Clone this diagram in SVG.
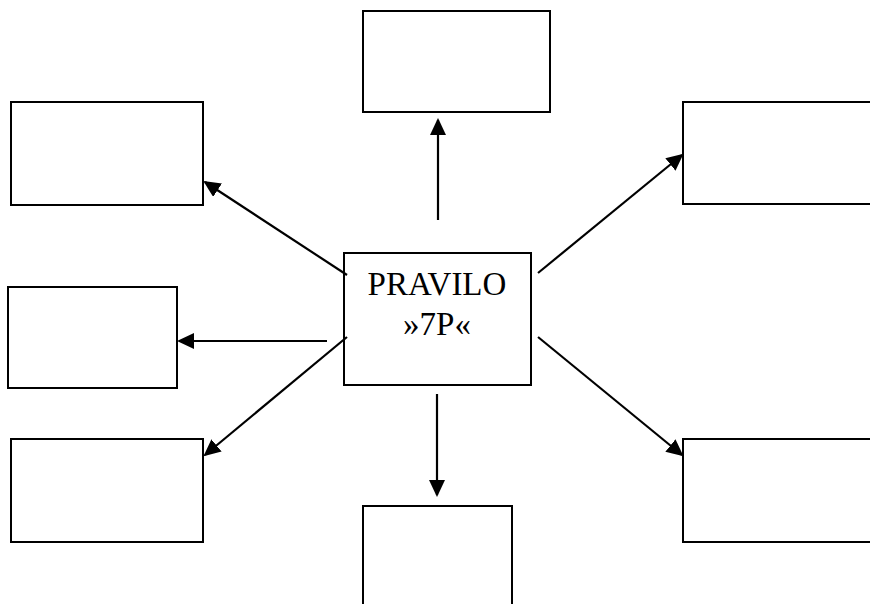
<svg xmlns="http://www.w3.org/2000/svg" width="870" height="604" viewBox="0 0 870 604">
<style>
.box{fill:#fff;stroke:#000;stroke-width:2}
.con{stroke:#000;stroke-width:2.2;fill:none;marker-end:url(#ah)}
.lbl{font-family:"Liberation Serif","Times New Roman",serif;font-size:33px;fill:#000;text-anchor:middle}
</style>
<defs>
<marker id="ah" markerUnits="userSpaceOnUse" markerWidth="17" markerHeight="16" refX="15" refY="8" orient="auto">
<path d="M0,0 L17,8 L0,16 Z" fill="#000"/>
</marker>
</defs>
<rect width="870" height="604" fill="#fff"/>
<g id="n-top"><rect class="box" x="363" y="11" width="187" height="101"/></g>
<g id="n-lefttop"><rect class="box" x="11" y="102" width="192" height="103"/></g>
<g id="n-righttop"><rect class="box" x="683" y="102" width="200" height="102"/></g>
<g id="n-leftmid"><rect class="box" x="8" y="287" width="169" height="101"/></g>
<g id="n-center"><rect class="box" x="344" y="253" width="187" height="132"/>
<text class="lbl" x="437" y="295">PRAVILO</text>
<text class="lbl" x="437" y="335">»7P«</text></g>
<g id="n-leftbottom"><rect class="box" x="11" y="439" width="192" height="103"/></g>
<g id="n-rightbottom"><rect class="box" x="683" y="439" width="200" height="103"/></g>
<g id="n-bottom"><rect class="box" x="363" y="506" width="149" height="110"/></g>
<g id="connectors">
<line class="con" x1="438" y1="220" x2="438" y2="120"/>
<line class="con" x1="347" y1="275" x2="205" y2="182"/>
<line class="con" x1="327" y1="341" x2="179" y2="341"/>
<line class="con" x1="347" y1="337" x2="205" y2="455"/>
<line class="con" x1="538" y1="273" x2="682" y2="155"/>
<line class="con" x1="538" y1="337" x2="682" y2="455"/>
<line class="con" x1="437" y1="394" x2="437" y2="495"/>
</g>
</svg>
